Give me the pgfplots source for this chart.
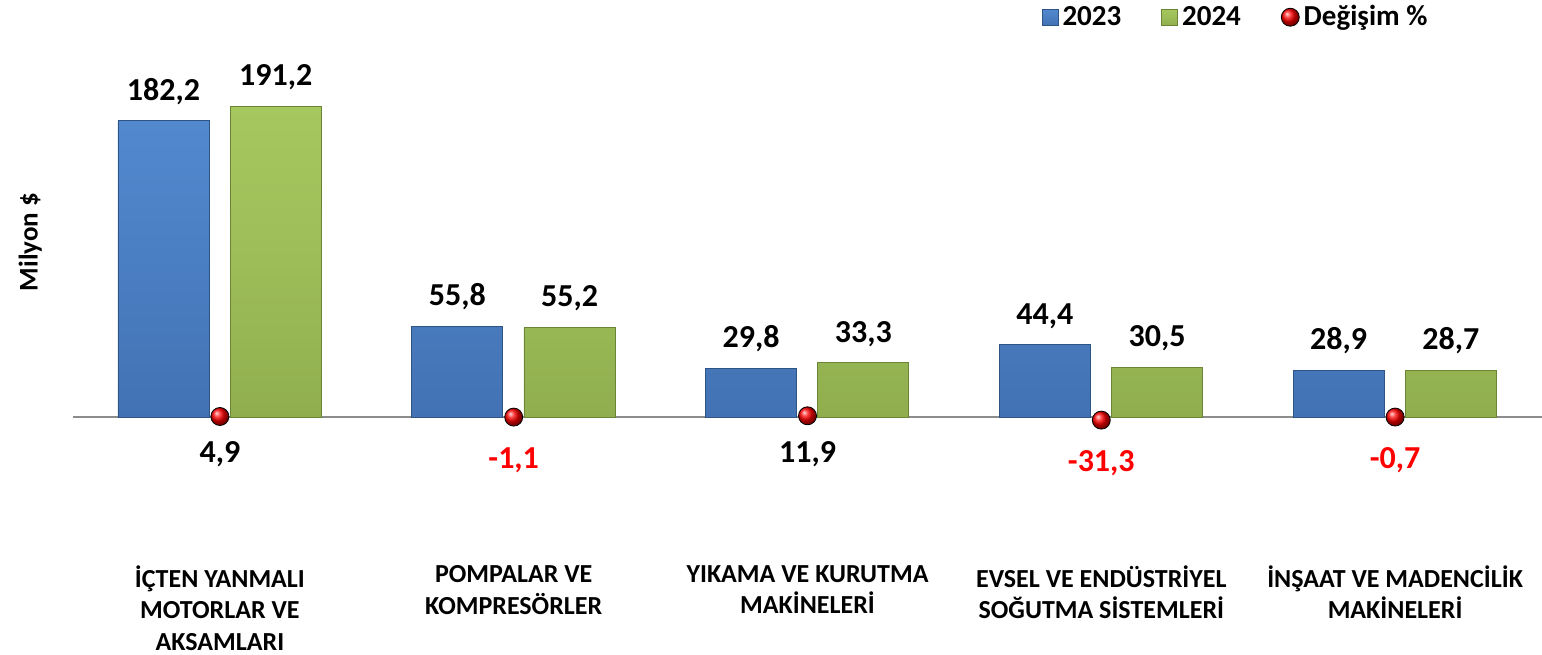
\documentclass[border=0pt]{standalone}
\usepackage{pgfplots}
\pgfplotsset{compat=1.18}
\usepackage{pgfplotstable}
\usepackage{fontspec}
\setmainfont{Carlito}
\definecolor{bTop}{HTML}{5289CE}
\definecolor{bMid}{HTML}{4A7EC2}
\definecolor{bBot}{HTML}{4272B3}
\definecolor{bEdge}{HTML}{2E5486}
\definecolor{gTop}{HTML}{A6C75E}
\definecolor{gMid}{HTML}{9DBD59}
\definecolor{gBot}{HTML}{90AE4E}
\definecolor{gEdge}{HTML}{6A8535}
\pgfplotstableread{
x y lab
0 182.2 182,2
1 55.8 55,8
2 29.8 29,8
3 44.4 44,4
4 28.9 28,9
}\dataA
\pgfplotstableread{
x y lab
0 191.2 191,2
1 55.2 55,2
2 33.3 33,3
3 30.5 30,5
4 28.7 28,7
}\dataB
\pgfplotstableread{
x y lab
0 4.9 4,9
2 11.9 11,9
}\pctPos
\pgfplotstableread{
x y lab
1 -1.1 -1,1
3 -31.3 -31,3
4 -0.7 -0,7
}\pctNeg
\begin{document}
\begin{tikzpicture}[font=\bfseries]
\path[use as bounding box] (0,0) rectangle (771pt,327pt);
\begin{axis}[
  at={(36.5pt,52pt)}, anchor=south west,
  scale only axis, width=734.5pt, height=252.5pt,
  xmin=-0.5, xmax=4.5, ymin=-81.85, ymax=228.9,
  axis line style={draw=none}, tick style={draw=none},
  ytick=\empty,
  extra y ticks={0}, extra y tick labels={},
  extra y tick style={grid=major, major grid style={draw=black!45, line width=1pt}},
  xtick={0,1,2,3,4},
  xticklabels={{İÇTEN YANMALI\\MOTORLAR VE\\AKSAMLARI},{POMPALAR VE\\KOMPRESÖRLER},{YIKAMA VE KURUTMA\\MAKİNELERİ},{EVSEL VE ENDÜSTRİYEL\\SOĞUTMA SİSTEMLERİ},{İNŞAAT VE MADENCİLİK\\MAKİNELERİ}},
  xticklabel style={align=center, font=\bfseries\fontsize{13}{15.75}\selectfont, anchor=north, yshift=0pt},
  ylabel={Milyon \$},
  ylabel style={at={(axis description cs:-0.029,0.61)}, anchor=center, font=\bfseries\fontsize{13.5}{15}\selectfont},
  ybar, bar width=0.31,
  point meta=explicit symbolic,
  nodes near coords,
  every node near coord/.append style={font=\bfseries\fontsize{16}{18}\selectfont, inner sep=0pt, anchor=south, yshift=8pt},
  legend columns=3,
  legend style={at={(axis description cs:0.925,1.055)}, anchor=east, draw=none, fill=none, inner sep=0pt,
    font=\bfseries\fontsize{14.5}{17}\selectfont,
    /tikz/every even column/.append style={column sep=18pt}},
  legend image code/.code={\draw[#1] (0pt,-4pt) rectangle (8pt,4pt);},
  clip=false,
]
\addplot[bar shift=-0.192, draw=bEdge, top color=bTop, bottom color=bBot, middle color=bMid] table[x=x,y=y,meta=lab] {\dataA};
\addlegendentry{2023}
\addplot[bar shift=0.19, draw=gEdge, top color=gTop, bottom color=gBot, middle color=gMid] table[x=x,y=y,meta=lab] {\dataB};
\addlegendentry{2024}
\addlegendimage{legend image code/.code={\shade[ball color=red] (4pt,0pt) circle (4.5pt);}}
\addlegendentry{Değişim \%}
\end{axis}
\begin{axis}[
  at={(36.5pt,52pt)}, anchor=south west,
  scale only axis, width=734.5pt, height=252.5pt,
  xmin=-0.5, xmax=4.5, ymin=-1330, ymax=3719.6,
  hide axis, clip=false,
  point meta=explicit symbolic,
  nodes near coords,
]
\addplot[only marks, mark=ball, mark size=4.5pt, mark options={ball color=red},
  every node near coord/.append style={font=\bfseries\fontsize{16}{18}\selectfont, text=black, anchor=center, yshift=-19pt}]
  table[x=x,y=y,meta=lab] {\pctPos};
\addplot[only marks, mark=ball, mark size=4.5pt, mark options={ball color=red},
  every node near coord/.append style={font=\bfseries\fontsize{16}{18}\selectfont, text=red, anchor=center, yshift=-21.5pt}]
  table[x=x,y=y,meta=lab] {\pctNeg};
\end{axis}
\end{tikzpicture}
\end{document}
